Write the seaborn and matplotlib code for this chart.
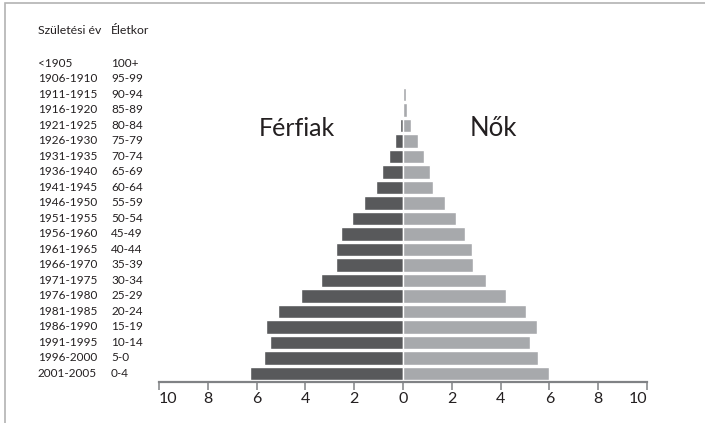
"""
Korfa (population pyramid) - Férfiak / Nők, 5 éves korcsoportok.
"""

import pandas as pd
import matplotlib.pyplot as plt
import matplotlib.transforms as mtransforms
from matplotlib.patches import Rectangle
import seaborn as sns

# Data (top row first)
birth_years = ['<1905', '1906-1910', '1911-1915', '1916-1920', '1921-1925',
               '1926-1930', '1931-1935', '1936-1940', '1941-1945', '1946-1950',
               '1951-1955', '1956-1960', '1961-1965', '1966-1970', '1971-1975',
               '1976-1980', '1981-1985', '1986-1990', '1991-1995', '1996-2000',
               '2001-2005']
age_groups = ['100+', '95-99', '90-94', '85-89', '80-84', '75-79', '70-74',
              '65-69', '60-64', '55-59', '50-54', '45-49', '40-44', '35-39',
              '30-34', '25-29', '20-24', '15-19', '10-14', '5-0', '0-4']
males = [0.0, 0.0, 0.0, 0.0, 0.13, 0.34, 0.59, 0.88, 1.1, 1.58, 2.09, 2.56,
         2.73, 2.73, 3.36, 4.17, 5.14, 5.61, 5.44, 5.69, 6.28]
females = [0.0, 0.0, 0.13, 0.15, 0.34, 0.62, 0.88, 1.09, 1.24, 1.74, 2.19, 2.53,
           2.82, 2.86, 3.4, 4.24, 5.03, 5.49, 5.19, 5.53, 5.99]
x_ticks = [-10, -8, -6, -4, -2, 0, 2, 4, 6, 8, 10]

MALE_COLOR = '#58595b'
FEMALE_COLOR = '#a7a9ac'
AXIS_COLOR = '#808285'
TEXT_COLOR = '#231f20'

sns.set_theme(style='white')
plt.rcParams['font.family'] = ['Lato', 'DejaVu Sans']
plt.rcParams['text.color'] = TEXT_COLOR

# Long format; men on the negative side
df = pd.DataFrame({
    'Korcsoport': age_groups * 2,
    'Nem': ['Férfiak'] * len(age_groups) + ['Nők'] * len(age_groups),
    'Érték': [-v for v in males] + females,
})

fig = plt.figure(figsize=(7.05, 4.23), dpi=100)
ax = fig.add_axes([159 / 705, 1 - 382 / 423, 488 / 705, (382 - 55.75) / 423])

sns.barplot(data=df, x='Érték', y='Korcsoport', hue='Nem', order=age_groups,
            palette={'Férfiak': MALE_COLOR, 'Nők': FEMALE_COLOR},
            dodge=False, width=0.9, orient='h', saturation=1, legend=False, ax=ax)

ax.set_xlim(-10, 10)
ax.set_ylim(len(age_groups) - 0.45, -0.5)
ax.set_xlabel('')
ax.set_ylabel('')
ax.set_yticks([])

ax.set_xticks(x_ticks)
ax.set_xticklabels([str(abs(t)) for t in x_ticks], fontsize=11.5, color=TEXT_COLOR)
labels = ax.get_xticklabels()
labels[0].set_horizontalalignment('left')
labels[-1].set_horizontalalignment('right')
ax.tick_params(axis='x', direction='out', length=5.8, width=1.1,
               color=AXIS_COLOR, pad=1.5, bottom=True)

for side in ['top', 'right', 'left']:
    ax.spines[side].set_visible(False)
ax.spines['bottom'].set_color(AXIS_COLOR)
ax.spines['bottom'].set_linewidth(1.6)

# Row labels in two columns on the left
trans = mtransforms.blended_transform_factory(fig.transFigure, ax.transData)
for i, (by, ag) in enumerate(zip(birth_years, age_groups)):
    ax.text(38 / 705, i, by, transform=trans, fontsize=8.5, va='center',
            ha='left', clip_on=False)
    ax.text(111 / 705, i, ag, transform=trans, fontsize=8.5, va='center',
            ha='left', clip_on=False)

fig.text(38 / 705, 1 - 31 / 423, 'Születési év', fontsize=8.8, va='center', ha='left')
fig.text(111 / 705, 1 - 31 / 423, 'Életkor', fontsize=8.8, va='center', ha='left')

# Group titles
ax.text(-4.35, 4.68, 'Férfiak', fontsize=18, ha='center', va='baseline')
ax.text(3.7, 4.68, 'Nők', fontsize=18.5, ha='center', va='baseline')

# Light frame, only top and left edges fall inside the picture
fig.patches.append(Rectangle((5 / 705, -0.1), 1.2, 1.1 - 3 / 423,
                             transform=fig.transFigure, fill=False,
                             edgecolor='#b3b3b3', linewidth=1.2, clip_on=False))

plt.savefig('out.png', dpi=100)
plt.close()
